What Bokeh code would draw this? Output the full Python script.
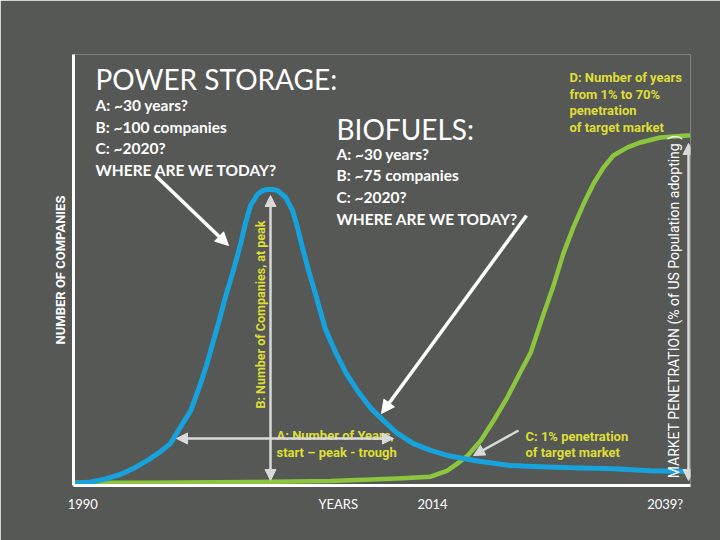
import math
from bokeh.plotting import figure
from bokeh.models import Range1d, Label, Arrow, NormalHead, FixedTicker
from bokeh.embed import file_html
from bokeh.resources import INLINE

# ---------------- data ----------------
# time axis (0 = start, 100 = end of chart), number of companies (blue bell curve)
blue_t = [0.2, 2.8, 5.2, 7.6, 9.7, 12.2, 14.1, 15.7, 17.3, 19.0, 20.6, 21.7, 22.7,
          23.7, 24.6, 25.9, 27.1, 27.9, 28.7, 29.8, 30.6, 31.4, 32.3, 33.1, 34.4,
          35.5, 36.3, 37.1, 38.1, 39.2, 40.8, 42.5, 44.2, 46.0, 48.1, 50.2, 52.5,
          55.1, 57.9, 60.6, 63.2, 66.0, 70.8, 76.8, 82.2, 87.5, 93.5, 100.0]
blue_companies = [0.7, 1.2, 2.2, 3.7, 5.7, 8.7, 11.4, 14.1, 19.5, 25.2, 34.3, 41.4, 48.8,
                  56.2, 63.2, 72.3, 81.4, 88.5, 94.2, 97.9, 99.2, 99.6, 99.6, 99.2, 96.9,
                  92.5, 86.8, 80.1, 72.3, 64.6, 52.8, 44.7, 37.7, 32.0, 26.2, 21.9, 17.5,
                  14.1, 11.8, 10.1, 9.1, 8.1, 6.7, 6.2, 5.9, 5.6, 5.0, 4.7]
# market penetration (green S-curve), % of target market
green_t = [0.2, 12.5, 28.7, 41.7, 52.5, 57.9, 60.6, 62.2, 63.9, 66.0, 68.1, 70.3,
           72.4, 74.1, 76.0, 77.8, 79.4, 81.0, 82.7, 84.3, 85.9, 87.5, 89.8, 91.9,
           95.1, 99.5, 100.0]
green_pct = [0.8, 0.8, 1.0, 1.3, 2.0, 2.5, 4.2, 6.2, 8.5, 12.7, 18.4, 24.9,
             32.0, 37.6, 47.6, 56.6, 65.7, 73.0, 79.8, 85.5, 90.0, 93.4, 95.7, 97.1,
             98.5, 99.1, 99.1]
tick_pos = [1.5, 42.9, 58.2, 95.9]
tick_labels = ["1990", "YEARS", "2014", "2039?"]

power_lines = ["A: ~30 years?", "B: ~100 companies", "C: ~2020?", "WHERE ARE WE TODAY?"]
bio_lines = ["A: ~30 years?", "B: ~75 companies", "C: ~2020?", "WHERE ARE WE TODAY?"]
d_lines = ["D: Number of years", "from 1% to 70%", "penetration", "of target market"]
c_lines = ["C: 1% penetration", "of target market"]
a_lines = ["A: Number of Years,", "start \u2013 peak - trough"]

# ---------------- styles ----------------
BG = "#565856"
BLUE = "#16a2dc"
GREEN = "#8cc63f"
YELLOW = "#dede35"
LGRAY = "#d9d9d9"
WHITE = "#ffffff"
F_MAIN = "Lato"
F_NARROW = "Liberation Sans Narrow, Roboto"

Y_MAX = 145.0
p = figure(width=720, height=540, output_backend="svg", toolbar_location=None,
           x_range=Range1d(0, 100), y_range=Range1d(0, Y_MAX),
           min_border_left=73, min_border_right=30, min_border_top=54, min_border_bottom=55,
           background_fill_color=BG, border_fill_color=BG, outline_line_color=None)
p.extra_y_ranges = {"pen": Range1d(0, 122)}
p.grid.visible = False

# axes
for ax in (p.xaxis[0], p.yaxis[0]):
    ax.axis_line_color = WHITE
    ax.axis_line_width = 3
    ax.major_tick_line_color = None
    ax.minor_tick_line_color = None
    ax.major_tick_out = 0
    ax.major_tick_in = 0
    ax.minor_tick_out = 0
    ax.minor_tick_in = 0
p.xaxis.ticker = FixedTicker(ticks=tick_pos)
p.xaxis.major_label_overrides = dict(zip(tick_pos, tick_labels))
p.xaxis.major_label_text_color = WHITE
p.xaxis.major_label_text_font = F_MAIN
p.xaxis.major_label_text_font_size = "13px"
p.xaxis.major_label_standoff = 10
p.yaxis.ticker = FixedTicker(ticks=[])
p.yaxis.axis_label = "NUMBER OF COMPANIES"
p.yaxis.axis_label_text_color = WHITE
p.yaxis.axis_label_text_font = F_NARROW
p.yaxis.axis_label_text_font_style = "bold"
p.yaxis.axis_label_text_font_size = "13px"
p.yaxis.axis_label_standoff = 6

# curves
p.line(green_t, green_pct, line_color=GREEN, line_width=4.5, y_range_name="pen",
       line_join="round")
p.line(blue_t, blue_companies, line_color=BLUE, line_width=5, line_join="round")

# helpers to place annotations from pixel positions measured on the picture
def X(px):
    return (px - 73) / 6.17

def Y(py):
    return (485 - py) * Y_MAX / 431

def label(txt, px, py, color=WHITE, size="15.5px", font=F_MAIN, style="bold",
          angle=0.0, align="left", baseline="alphabetic"):
    p.add_layout(Label(x=X(px), y=Y(py), text=txt, text_color=color,
                       text_font=font, text_font_size=size,
                       text_font_style=style, angle=angle, text_align=align,
                       text_baseline=baseline))

def arrow(x0, y0, x1, y1, color, width, both=False, size=11):
    head = lambda: NormalHead(size=size, fill_color=color, line_color=color)
    p.add_layout(Arrow(x_start=X(x0), y_start=Y(y0), x_end=X(x1), y_end=Y(y1),
                       line_color=color, line_width=width,
                       start=head() if both else None, end=head()))

# titles and text blocks
label("POWER STORAGE:", 95, 78, size="28px", style="normal")
for i, t in enumerate(power_lines):
    label(t, 95, 104.5 + 21.5 * i)
label("BIOFUELS:", 336, 128, size="28px", style="normal")
for i, t in enumerate(bio_lines):
    label(t, 336, 153 + 21.7 * i)
for i, t in enumerate(d_lines):
    label(t, 569, 77.3 + 16.5 * i, color=YELLOW, size="13px", font=F_NARROW)
for i, t in enumerate(c_lines):
    label(t, 525, 436 + 16.3 * i, color=YELLOW, size="13px", font=F_NARROW)
for i, t in enumerate(a_lines):
    label(t, 276, 435 + 16.5 * i, color=YELLOW, size="13px", font=F_NARROW)
label("B: Number of Companies, at peak", 260, 314, color=YELLOW, size="12.5px",
      font=F_NARROW, angle=math.pi / 2, align="center", baseline="middle")
label("MARKET PENETRATION (% of US Population adopting )", 673, 306, color=WHITE,
      size="14px", font=F_NARROW, style="normal", angle=math.pi / 2,
      align="center", baseline="middle")

# arrows
arrow(270, 480, 270, 195, LGRAY, 2.5, both=True)
arrow(393, 438, 176, 438, LGRAY, 2.5, both=True)
arrow(518, 430, 473, 455, LGRAY, 2.5)
arrow(688, 480, 688, 143, LGRAY, 2.5, both=True)
arrow(155, 175, 228, 245, WHITE, 3.5, size=13)
arrow(526, 215, 381, 413, WHITE, 3.5, size=13)

open("out.html", "w").write(file_html(p, INLINE))
